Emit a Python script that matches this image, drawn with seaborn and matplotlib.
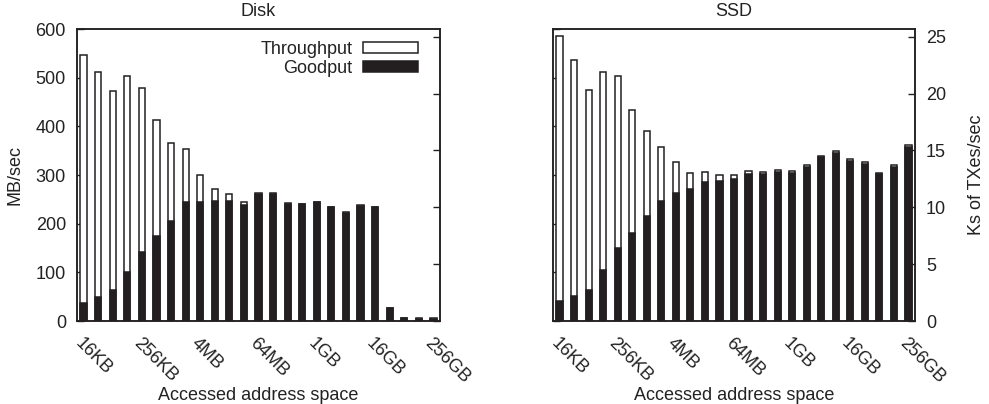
import numpy as np
import pandas as pd
import matplotlib
matplotlib.use("Agg")
import matplotlib.pyplot as plt
from matplotlib.patches import Patch
import seaborn as sns

# ---- data (MB/sec) ----
tick_labels = ["16KB", "256KB", "4MB", "64MB", "1GB", "16GB", "256GB"]
n_bars = 25

disk_throughput = [547, 512, 473, 504, 478, 414, 366, 354, 299, 271, 260, 245, 264,
                   263, 242, 241, 245, 235, 223, 238, 235, 27, 7, 6, 6]
disk_goodput = [38, 49, 64, 101, 142, 175, 205, 244, 245, 247, 247, 238, 260,
                260, 240, 240, 244, 234, 222, 237, 234, 26, 6, 5, 5]

ssd_throughput = [586, 536, 475, 512, 504, 433, 390, 357, 326, 305, 307, 299, 299,
                  309, 307, 310, 308, 320, 340, 349, 333, 327, 304, 320, 362]
ssd_goodput = [41, 51, 64, 104, 151, 180, 216, 246, 263, 271, 286, 288, 292,
               303, 302, 306, 305, 317, 337, 346, 329, 323, 302, 316, 358]

left_ticks = [0, 100, 200, 300, 400, 500, 600]
right_ticks = [0, 5, 10, 15, 20, 25]

sns.set_style("white")
plt.rcParams["font.family"] = ["Liberation Sans", "DejaVu Sans"]
plt.rcParams["font.size"] = 13
TXT = "#222222"
DARK = "#231f20"

fig = plt.figure(figsize=(9.89, 4.04), dpi=100)
W, H = 989, 404
ax_l = fig.add_axes([77 / W, (H - 321) / H, (440 - 77) / W, 292 / H])
ax_r = fig.add_axes([553 / W, (H - 321) / H, (915 - 553) / W, 292 / H])


def draw(ax, thr, good, title, show_left, show_right):
    df = pd.DataFrame({"pos": list(range(n_bars)), "thr": thr, "good": good})
    sns.barplot(data=df, x="pos", y="thr", color="white", edgecolor=DARK,
                linewidth=1.1, width=0.42, saturation=1, errorbar=None, ax=ax)
    sns.barplot(data=df, x="pos", y="good", color=DARK, edgecolor=DARK,
                linewidth=1.1, width=0.42, saturation=1, errorbar=None, ax=ax)
    ax.set_xlim(-0.45, n_bars - 0.55)
    ax.set_ylim(0, 600)
    ax.set_xticks(list(range(0, n_bars, 4)))
    ax.set_xticklabels(tick_labels, rotation=-45, ha="left", va="top",
                       rotation_mode="anchor", color=TXT)
    ax.tick_params(axis="x", direction="out", length=6, width=1, pad=4,
                   colors=DARK, labelcolor=TXT)
    ax.set_yticks(left_ticks)
    ax.tick_params(axis="y", direction="in", length=5, width=1, pad=8,
                   colors=DARK, labelcolor=TXT, labelleft=show_left)
    ax.set_xlabel("Accessed address space", color=TXT, labelpad=0)
    ax.set_ylabel("MB/sec" if show_left else "", color=TXT, labelpad=9)
    ax.set_title(title, color=TXT, pad=9, fontsize=13)
    for s in ax.spines.values():
        s.set_visible(True)
        s.set_color(DARK)
        s.set_linewidth(1.1)
    ax2 = ax.twinx()
    ax2.set_ylim(0, 25.68)
    ax2.set_yticks(right_ticks)
    ax2.tick_params(axis="y", direction="in", length=5, width=1, pad=8,
                    colors=DARK, labelcolor=TXT, labelright=show_right)
    if show_right:
        ax2.set_ylabel("Ks of TXes/sec", color=TXT, labelpad=16)
    for s in ax2.spines.values():
        s.set_color(DARK)
        s.set_linewidth(1.1)
    return ax2


draw(ax_l, disk_throughput, disk_goodput, "Disk", True, False)
draw(ax_r, ssd_throughput, ssd_goodput, "SSD", False, True)

handles = [Patch(facecolor="white", edgecolor=DARK, linewidth=1.1, label="Throughput"),
           Patch(facecolor=DARK, edgecolor=DARK, linewidth=1.1, label="Goodput")]
leg = ax_l.legend(handles=handles, loc="upper right", frameon=False, markerfirst=False,
                  handlelength=3.0, handleheight=0.55, handletextpad=0.6,
                  labelspacing=0.12, borderaxespad=0.4, bbox_to_anchor=(0.978, 1.01))
for t in leg.get_texts():
    t.set_color(TXT)

fig.savefig("out.png", dpi=100)
